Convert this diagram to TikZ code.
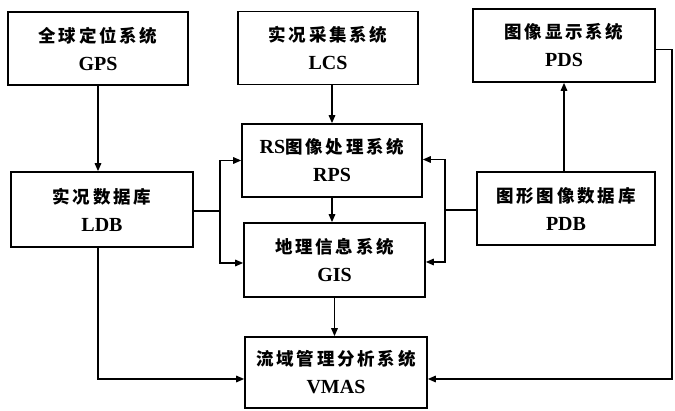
\documentclass[tikz,border=0pt]{standalone}
\usepackage{fontspec}
\setmainfont{Liberation Serif}
\newfontfamily\cjkf[LetterSpace=16]{Noto Sans CJK SC}
\usetikzlibrary{arrows.meta}
\newcommand{\twolines}[2]{{\cjkf\bfseries #1}\\[4pt]{\fontsize{20}{24}\selectfont\bfseries #2}}
\tikzset{
  sysbox/.style={draw, line width=1.6pt, minimum width=#1, minimum height=73pt, inner sep=0pt,
    align=center, font=\fontsize{17.5}{24}\selectfont},
  sysbox/.default=180pt,
  conn/.style={line width=1.5pt},
  arr/.style={conn, -{Triangle[length=8pt,width=6.5pt]}}
}
\begin{document}
\begin{tikzpicture}[x=1pt,y=1pt]
\useasboundingbox (0,0) rectangle (675,411);
\node[sysbox=180pt] (GPS) at (98,362.5) {\twolines{全球定位系统}{GPS}};
\node[sysbox=180pt] (LCS) at (328,363) {\twolines{实况采集系统}{LCS}};
\node[sysbox=182pt] (PDS) at (564,365.5) {\twolines{图像显示系统}{PDS}};
\node[sysbox=180pt] (RPS) at (332,250.5) {{\fontsize{20}{24}\selectfont\bfseries RS}{\cjkf\bfseries 图像处理系统}\\[4pt]{\fontsize{20}{24}\selectfont\bfseries RPS}};
\node[sysbox=182pt, minimum height=75pt] (LDB) at (102,201.5) {\twolines{实况数据库}{LDB}};
\node[sysbox=178pt] (PDB) at (566,202.5) {\twolines{图形图像数据库}{PDB}};
\node[sysbox=181pt, minimum height=74pt] (GIS) at (334.5,151) {\twolines{地理信息系统}{GIS}};
\node[sysbox=182pt, minimum height=71pt] (VMAS) at (336,38.5) {\twolines{流域管理分析系统}{VMAS}};
\coordinate (jl) at (220,200);
\coordinate (jr) at (445,201);
\coordinate (cl) at (98,32);
\coordinate (cr) at (672,32);
\draw[arr] (GPS.south) -- (GPS.south |- LDB.north);
\draw[arr] (RPS.north |- LCS.south) -- (RPS.north);
\draw[arr] (RPS.south) -- (RPS.south |- GIS.north);
\draw[arr] (GIS.south) -- (GIS.south |- VMAS.north);
\draw[conn] (LDB.east |- jl) -- (jl);
\draw[arr] (jl) |- (RPS.west);
\draw[arr] (jl) |- ([yshift=-3pt]GIS.west);
\draw[conn] (PDB.west |- jr) -- (jr);
\draw[arr] (jr) |- ([yshift=1pt]RPS.east);
\draw[arr] (jr) |- ([yshift=-2pt]GIS.east);
\draw[arr] (PDS.south |- PDB.north) -- (PDS.south);
\draw[arr] ([yshift=-4pt]PDS.east) -| (cr) -- (VMAS.east |- cr);
\draw[arr] (LDB.south -| cl) -- (cl) -- (VMAS.west |- cl);
\end{tikzpicture}
\end{document}
